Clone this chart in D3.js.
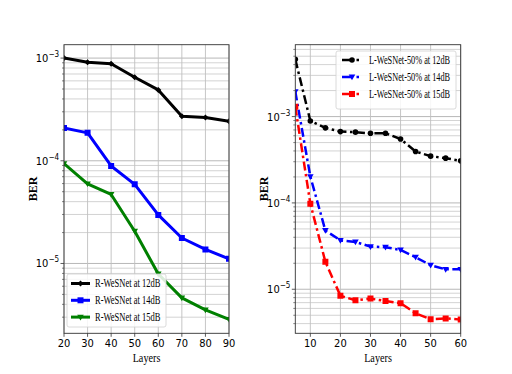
<!DOCTYPE html>
<html><head><meta charset="utf-8">
<script src="https://cdn.jsdelivr.net/npm/d3@7"></script>
<style>
body{margin:0;background:#fff;}
svg text{fill:#000;}
</style></head>
<body>
<svg id="chart" width="512" height="374"></svg>
<script>
// ---- data ----
const leftLayers = [20,30,40,50,60,70,80,90];
const r12 = [1.0e-3, 9.1e-4, 8.8e-4, 6.5e-4, 4.9e-4, 2.72e-4, 2.64e-4, 2.43e-4];
const r14 = [2.09e-4, 1.87e-4, 8.9e-5, 5.9e-5, 2.97e-5, 1.77e-5, 1.37e-5, 1.11e-5];
const r15 = [9.4e-5, 5.97e-5, 4.7e-5, 2.06e-5, 7.9e-6, 4.62e-6, 3.53e-6, 2.86e-6];
const leftNames = ["R-WeSNet at 12dB","R-WeSNet at 14dB","R-WeSNet at 15dB"];

const rightLayers = [5,10,15,20,25,30,35,40,45,50,55,60];
const l12 = [4.6e-3, 8.9e-4, 7.4e-4, 6.7e-4, 6.6e-4, 6.4e-4, 6.4e-4, 5.5e-4, 3.94e-4, 3.48e-4, 3.3e-4, 3.07e-4];
const l14 = [1.95e-3, 2.02e-4, 4.8e-5, 3.68e-5, 3.53e-5, 3.12e-5, 3.07e-5, 2.85e-5, 2.35e-5, 1.9e-5, 1.7e-5, 1.7e-5];
const l15 = [1.3e-3, 9.8e-5, 2.08e-5, 8.4e-6, 7.45e-6, 7.8e-6, 7.3e-6, 6.9e-6, 5.27e-6, 4.5e-6, 4.6e-6, 4.45e-6];
const rightNames = ["L-WeSNet-50% at 12dB","L-WeSNet-50% at 14dB","L-WeSNet-50% at 15dB"];

const leftXTicks = [20,30,40,50,60,70,80,90];
const rightXTicks = [10,20,30,40,50,60];
const leftYTicks = [1e-3,1e-4,1e-5];
const rightYTicks = [1e-3,1e-4,1e-5];

// ---- drawing ----
const svg = d3.select("#chart");
const serif = "'Liberation Serif','Times New Roman',serif";
const sans = "'DejaVu Sans Condensed','DejaVu Sans',sans-serif";

function markerPath(type, size){
  const s = size;
  if(type==="square") return `M${-s},${-s}H${s}V${s}H${-s}Z`;
  if(type==="tri") return `M${-s*1.1},${-s*0.8}H${s*1.1}L0,${s*1.1}Z`;
  if(type==="diamond") return `M0,${-s}L${s},0L0,${s}L${-s},0Z`;
  return d3.symbol(d3.symbolCircle, Math.PI*s*s)();
}

function panel(opt){
  const g = svg.append("g");
  const x = d3.scaleLinear().domain(opt.xdom).range([opt.x0,opt.x1]);
  const y = d3.scaleLog().domain(opt.ydom).range([opt.y1,opt.y0]);
  const clipId = "clip"+opt.id;
  svg.append("clipPath").attr("id",clipId).append("rect")
    .attr("x",opt.x0).attr("y",opt.y0).attr("width",opt.x1-opt.x0).attr("height",opt.y1-opt.y0);

  // minor grid
  const minor = [];
  const lo = Math.floor(Math.log10(opt.ydom[0])), hi = Math.ceil(Math.log10(opt.ydom[1]));
  for(let e=lo;e<hi;e++) for(let m=2;m<=9;m++){ const v=m*Math.pow(10,e); if(v>=opt.ydom[0]&&v<=opt.ydom[1]) minor.push(v); }
  g.selectAll(".ming").data(minor).enter().append("line")
    .attr("x1",opt.x0).attr("x2",opt.x1).attr("y1",d=>y(d)).attr("y2",d=>y(d))
    .attr("stroke","#c8c8c8").attr("stroke-width",0.8);
  g.selectAll(".majg").data(opt.yticks).enter().append("line")
    .attr("x1",opt.x0).attr("x2",opt.x1).attr("y1",d=>y(d)).attr("y2",d=>y(d))
    .attr("stroke","#b0b0b0").attr("stroke-width",0.9);
  g.selectAll(".xg").data(opt.xticks).enter().append("line")
    .attr("x1",d=>x(d)).attr("x2",d=>x(d)).attr("y1",opt.y0).attr("y2",opt.y1)
    .attr("stroke","#c0c0c0").attr("stroke-width",0.9);

  // series
  const line = d3.line().x((d,i)=>x(opt.xs[i])).y(d=>y(d));
  const sg = g.append("g").attr("clip-path",`url(#${clipId})`);
  opt.series.forEach(s=>{
    sg.append("path").datum(s.vals).attr("d",line).attr("fill","none")
      .attr("stroke",s.color).attr("stroke-width",opt.lw)
      .attr("stroke-dasharray",opt.dash||null).attr("stroke-linejoin","round");
    sg.selectAll(null).data(s.vals).enter().append("path")
      .attr("d",markerPath(s.marker,s.msize))
      .attr("transform",(d,i)=>`translate(${x(opt.xs[i])},${y(d)})`)
      .attr("fill",s.color);
  });

  // spines
  g.append("rect").attr("x",opt.x0).attr("y",opt.y0).attr("width",opt.x1-opt.x0).attr("height",opt.y1-opt.y0)
    .attr("fill","none").attr("stroke","#333").attr("stroke-width",0.9);

  // x ticks
  opt.xticks.forEach(t=>{
    g.append("line").attr("x1",x(t)).attr("x2",x(t)).attr("y1",opt.y1).attr("y2",opt.y1+3.5).attr("stroke","#333").attr("stroke-width",0.8);
    g.append("text").attr("x",x(t)).attr("y",opt.y1+14).attr("text-anchor","middle")
      .style("font-family",sans).style("font-size","11px").text(t);
  });
  // y ticks
  opt.yticks.forEach(t=>{
    g.append("line").attr("x1",opt.x0-3.5).attr("x2",opt.x0).attr("y1",y(t)).attr("y2",y(t)).attr("stroke","#333").attr("stroke-width",0.8);
    const e = String(Math.round(Math.log10(t))).replace("-","\u2212");
    const tx = g.append("text").attr("x",opt.x0-5).attr("y",y(t)+4).attr("text-anchor","end")
      .style("font-family",sans).style("font-size","11px");
    tx.append("tspan").text("10");
    tx.append("tspan").attr("dy",-5).style("font-size","8px").text(e);
  });
  minor.forEach(t=>{
    g.append("line").attr("x1",opt.x0-2).attr("x2",opt.x0).attr("y1",y(t)).attr("y2",y(t)).attr("stroke","#333").attr("stroke-width",0.6);
  });

  // labels
  const cx = (opt.x0+opt.x1)/2;
  g.append("text").attr("x",cx).attr("y",opt.y1+29).attr("text-anchor","middle")
    .attr("transform",`translate(${cx},0) scale(0.85,1) translate(${-cx},0)`)
    .style("font-family",serif).style("font-size","12px").text("Layers");
  g.append("text").attr("transform",`translate(${opt.ylabX},${opt.ylabY}) rotate(-90)`).attr("text-anchor","middle")
    .style("font-family",serif).style("font-size","12px").style("font-weight","bold").text("BER");

  // legend
  const L = opt.legend;
  g.append("rect").attr("x",L.x).attr("y",L.y).attr("width",L.w).attr("height",L.h).attr("rx",2)
    .attr("fill","rgba(255,255,255,0.85)").attr("stroke","#d0d0d0").attr("stroke-width",0.8);
  opt.series.forEach((s,i)=>{
    const cy = L.y + L.row0 + i*L.dy;
    g.append("line").attr("x1",L.x+L.hx0).attr("x2",L.x+L.hx1).attr("y1",cy).attr("y2",cy)
      .attr("stroke",s.color).attr("stroke-width",opt.lw).attr("stroke-dasharray",opt.legDash||null);
    g.append("path").attr("d",markerPath(s.marker,s.msize)).attr("transform",`translate(${L.x+(L.hx0+L.hx1)/2},${cy})`).attr("fill",s.color);
    const tx0 = L.x+L.tx;
    g.append("text").attr("x",tx0).attr("y",cy+4)
      .attr("transform",`translate(${tx0},0) scale(${L.sx},1) translate(${-tx0},0)`)
      .style("font-family",serif).style("font-size","12px").text(s.name);
  });
}

panel({
  id:"L", x0:64, x1:229, y0:44.7, y1:333.3,
  xdom:[20,90], ydom:[2.09e-6,1.35e-3], xs:leftLayers,
  xticks:leftXTicks, yticks:leftYTicks, lw:3,
  ylabX:37, ylabY:189,
  series:[
    {vals:r12,color:"#000000",marker:"diamond",msize:3,name:leftNames[0]},
    {vals:r14,color:"#0000ff",marker:"square",msize:3,name:leftNames[1]},
    {vals:r15,color:"#008000",marker:"tri",msize:3,name:leftNames[2]}
  ],
  legend:{x:67,y:274,w:99,h:53,row0:9.5,dy:16.8,hx0:4,hx1:23,tx:28,sx:0.71}
});

panel({
  id:"R", x0:295.3, x1:460.7, y0:44.7, y1:333.3,
  xdom:[5,60], ydom:[3.09e-6,6.8e-3], xs:rightLayers,
  xticks:rightXTicks, yticks:rightYTicks, lw:2.5, dash:"9,3.5,2.5,3.5", legDash:"11,3.5,2.5,3.5",
  ylabX:268, ylabY:189,
  series:[
    {vals:l12,color:"#000000",marker:"circle",msize:2.8,name:rightNames[0]},
    {vals:l14,color:"#0000ff",marker:"tri",msize:3,name:rightNames[1]},
    {vals:l15,color:"#ff0000",marker:"square",msize:3,name:rightNames[2]}
  ],
  legend:{x:336,y:51,w:120,h:58,row0:9,dy:17,hx0:6,hx1:26,tx:33,sx:0.69}
});
</script>
</body></html>
